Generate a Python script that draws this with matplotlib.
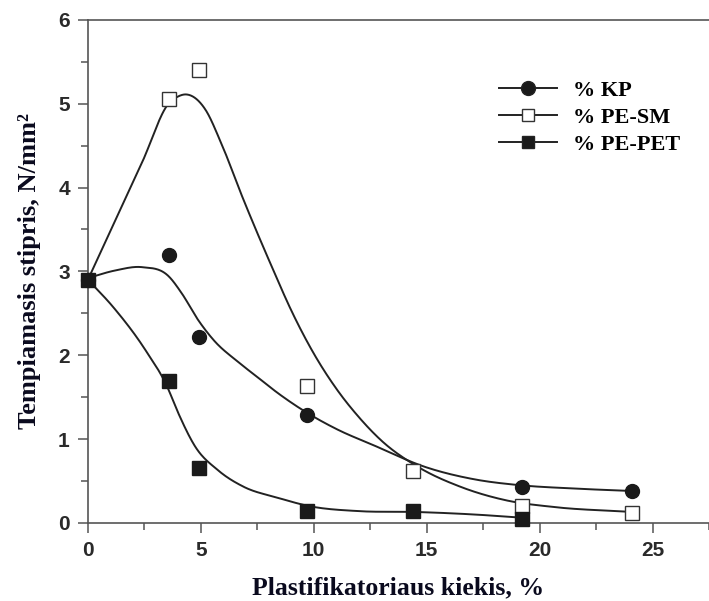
import matplotlib
matplotlib.use('Agg')
import matplotlib.pyplot as plt
import numpy as np

# measured points
x_kp = [0, 3.6, 4.9, 9.7, 19.2, 24.1]
y_kp = [2.9, 3.2, 2.22, 1.29, 0.43, 0.38]

x_sm = [3.6, 4.9, 9.7, 14.4, 19.2, 24.1]
y_sm = [5.05, 5.4, 1.63, 0.62, 0.2, 0.12]

x_pet = [0, 3.6, 4.9, 9.7, 14.4, 19.2]
y_pet = [2.9, 1.69, 0.65, 0.14, 0.14, 0.05]

# fitted curves
fit_kp_x = [0, 1.2, 2.4, 3.58, 4.15, 4.88, 5.6, 6.6, 7.5, 8.4, 9.6, 11.0, 12.7, 14.9, 17.1, 19.1, 21.5, 24.1]
fit_kp_y = [2.92, 3.01, 3.05, 2.94, 2.74, 2.42, 2.17, 1.93, 1.74, 1.55, 1.33, 1.12, 0.92, 0.67, 0.52, 0.45, 0.41, 0.38]

fit_sm_x = [0, 1.2, 2.4, 3.6, 3.95, 4.36, 5.2, 5.9, 6.85, 8.07, 9.1, 10.0, 11.0, 12.0, 13.0,
            14.6, 16.5, 18.5, 20.6, 24.1]
fit_sm_y = [2.9, 3.6, 4.3, 5.01, 5.08, 5.11, 4.93, 4.53, 3.88, 3.10, 2.48, 2.02, 1.60, 1.26, 0.98,
            0.67, 0.43, 0.27, 0.19, 0.13]

fit_pet_x = [0, 1.1, 2.55, 3.5, 4.0, 4.75, 5.75, 6.9, 8.4, 9.8, 12.0, 14.5, 17.1, 19.3]
fit_pet_y = [2.9, 2.58, 2.06, 1.63, 1.31, 0.91, 0.63, 0.43, 0.30, 0.20, 0.14, 0.13, 0.10, 0.06]

labels = ['% KP', '% PE-SM', '% PE-PET']


def smooth(xs, ys, n=30):
    # cubic hermite in x through the read points, just for drawing
    x = np.asarray(xs, float)
    y = np.asarray(ys, float)
    h = np.diff(x)
    d = np.diff(y) / h
    m = np.empty_like(y)
    m[0], m[-1] = d[0], d[-1]
    m[1:-1] = (h[1:] * d[:-1] + h[:-1] * d[1:]) / (h[:-1] + h[1:])
    px, py = [], []
    for i in range(len(x) - 1):
        t = np.linspace(0, 1, n, endpoint=False)
        h00 = 2 * t**3 - 3 * t**2 + 1
        h10 = t**3 - 2 * t**2 + t
        h01 = -2 * t**3 + 3 * t**2
        h11 = t**3 - t**2
        px.append(x[i] + t * h[i])
        py.append(h00 * y[i] + h10 * h[i] * m[i] + h01 * y[i + 1] + h11 * h[i] * m[i + 1])
    px.append([x[-1]])
    py.append([y[-1]])
    return np.concatenate(px), np.concatenate(py)


fig = plt.figure(figsize=(7.09, 6.01), dpi=100)
ax = fig.add_axes([0.124, 0.13, 0.876, 0.837])

lc = '#222222'
for fx, fy in [(fit_kp_x, fit_kp_y), (fit_sm_x, fit_sm_y), (fit_pet_x, fit_pet_y)]:
    sx, sy = smooth(fx, fy)
    ax.plot(sx, sy, color=lc, lw=1.4, clip_on=False, zorder=2)

ax.plot(x_kp, y_kp, 'o', ms=10, color='#1a1a1a', clip_on=False, zorder=3)
ax.plot(x_sm, y_sm, 's', ms=9.5, mfc='white', mec='#333333', mew=1.0, clip_on=False, zorder=3)
ax.plot(x_pet, y_pet, 's', ms=9.5, color='#1a1a1a', clip_on=False, zorder=4)

# legend handles
h1, = ax.plot([], [], '-o', color=lc, ms=10, mfc='#1a1a1a', lw=1.4)
h2, = ax.plot([], [], '-s', color=lc, ms=8.5, mfc='white', mec='#333333', lw=1.4)
h3, = ax.plot([], [], '-s', color=lc, ms=9, mfc='#1a1a1a', lw=1.4)
ax.legend([h1, h2, h3], labels, loc='upper left', bbox_to_anchor=(0.63, 0.92),
          frameon=False, handlelength=2.6, handletextpad=0.7, labelspacing=0.3,
          prop={'family': 'Liberation Serif', 'weight': 'bold', 'size': 16})

ax.set_xlim(0, 27.1)
ax.set_ylim(0, 6)
ax.set_xticks([0, 5, 10, 15, 20, 25])
ax.set_xticks([2.5, 7.5, 12.5, 17.5, 22.5, 27.5], minor=True)
ax.set_yticks([0, 1, 2, 3, 4, 5, 6])
ax.set_yticks(np.arange(0.5, 6, 1.0), minor=True)

for s in ['left', 'bottom', 'top']:
    ax.spines[s].set_color('#555555')
    ax.spines[s].set_linewidth(1.2)
ax.spines['right'].set_visible(False)

ax.tick_params(which='major', length=7, width=1.1, color='#555555', pad=6,
               labelsize=15, labelcolor='#2a2a2a')
ax.tick_params(which='minor', length=5, width=1.1, color='#555555')
for lab in ax.get_xticklabels() + ax.get_yticklabels():
    lab.set_fontfamily('Liberation Sans')
    lab.set_fontweight('bold')

ax.set_xlabel('Plastifikatoriaus kiekis, %', family='Liberation Serif', weight='bold',
              size=18.5, color='#0a0a1e', labelpad=12)
ax.set_ylabel('Tempiamasis stipris, N/mm²', family='Liberation Serif', weight='bold',
              size=19, color='#0a0a1e', labelpad=12)

fig.savefig('out.png', dpi=100)
